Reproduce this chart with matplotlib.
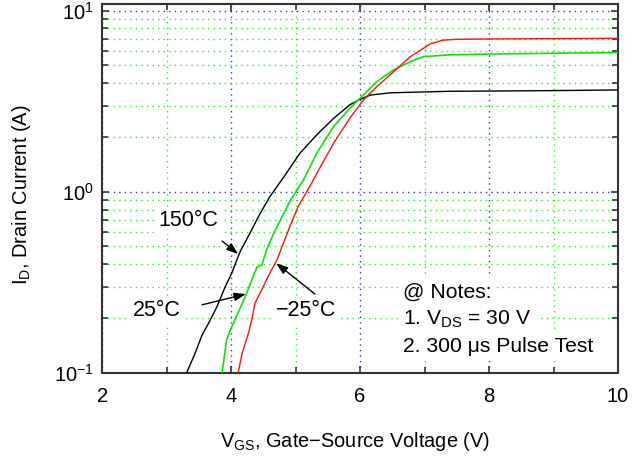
import matplotlib
matplotlib.use("Agg")
import matplotlib.pyplot as plt
from matplotlib.ticker import FixedLocator, NullFormatter, LogLocator

plt.rcParams["font.family"] = ["Liberation Sans", "DejaVu Sans"]
plt.rcParams["mathtext.fontset"] = "custom"
plt.rcParams["mathtext.rm"] = "Liberation Sans"
plt.rcParams["mathtext.it"] = "Liberation Sans:italic"
plt.rcParams["mathtext.bf"] = "Liberation Sans:bold"

# transfer characteristics
vgs_150 = [3.31, 3.44, 3.55, 3.65, 3.78, 3.91, 4.01, 4.14, 4.29, 4.45, 4.60,
           4.81, 5.07, 5.33, 5.59, 5.84, 6.00, 6.16, 6.47, 7.00, 7.40, 8.0, 9.0, 10.0]
id_150 = [0.10, 0.128, 0.162, 0.188, 0.232, 0.30, 0.356, 0.468, 0.59, 0.76, 0.94,
          1.20, 1.64, 2.07, 2.55, 3.03, 3.25, 3.43, 3.53, 3.57, 3.60, 3.61, 3.63, 3.66]

vgs_25 = [3.86, 3.93, 4.01, 4.14, 4.24, 4.32, 4.40, 4.48, 4.55, 4.66, 4.79, 4.92,
          5.12, 5.33, 5.59, 5.84, 6.05, 6.26, 6.52, 6.78, 6.98, 7.40, 8.0, 9.0, 10.0]
id_25 = [0.10, 0.152, 0.18, 0.228, 0.275, 0.326, 0.384, 0.396, 0.478, 0.59, 0.73, 0.90,
         1.16, 1.64, 2.30, 2.90, 3.43, 4.07, 4.72, 5.25, 5.59, 5.72, 5.78, 5.84, 5.89]

vgs_m25 = [4.11, 4.17, 4.27, 4.32, 4.37, 4.50, 4.60, 4.71, 4.81, 4.91, 5.04, 5.25,
           5.33, 5.59, 5.84, 6.05, 6.26, 6.52, 6.78, 7.09, 7.29, 7.50, 8.0, 9.0, 10.0]
id_m25 = [0.10, 0.128, 0.166, 0.196, 0.243, 0.30, 0.356, 0.42, 0.52, 0.643, 0.83, 1.12,
          1.27, 1.86, 2.55, 3.22, 3.82, 4.62, 5.59, 6.58, 6.90, 6.97, 7.00, 7.03, 7.06]

x_labels = [2, 4, 6, 8, 10]
notes = ["@ Notes:", "1. V$_{\\rm DS}$ = 30 V", "2. 300 \u03bcs Pulse Test"]
notes_y = [0.2594, 0.184, 0.1306]

fig = plt.figure(figsize=(6.38, 4.59), dpi=100)
ax = fig.add_axes([0.160, 0.1874, 0.8088, 0.804])

ax.set_yscale("log")
ax.set_xlim(2, 10)
ax.set_ylim(0.1, 10.93)

ax.xaxis.set_major_locator(FixedLocator(x_labels))
ax.xaxis.set_minor_locator(FixedLocator([3, 5, 7, 9]))
ax.yaxis.set_major_locator(LogLocator(base=10, numticks=10))
ax.yaxis.set_minor_locator(LogLocator(base=10, subs=range(2, 10), numticks=10))
ax.yaxis.set_minor_formatter(NullFormatter())

dots = (0, (1, 3))
ax.grid(which="major", color="#3030ff", linestyle=dots, linewidth=1.0)
ax.grid(which="minor", color="#20f020", linestyle=dots, linewidth=1.0)
ax.set_axisbelow(True)

ax.plot(vgs_150, id_150, color="black", lw=1.0, zorder=3)
ax.plot(vgs_25, id_25, color="#10e010", lw=1.2, zorder=3)
ax.plot(vgs_m25, id_m25, color="#ff1010", lw=1.0, zorder=3)

for s in ax.spines.values():
    s.set_color("#333333")
    s.set_linewidth(1.5)
ax.tick_params(which="both", direction="in", top=True, right=True,
               colors="#333333", labelcolor="black", labelsize=14.5)
ax.tick_params(axis="x", pad=10)
ax.tick_params(axis="y", pad=6)
ax.tick_params(which="major", length=5, width=1.2)
ax.tick_params(which="minor", length=4, width=1.2)

fig.text(0.556, 0.026, r"V$_{\rm GS}$, Gate$-$Source Voltage (V)", fontsize=14.4,
         ha="center", va="baseline")
fig.text(0.034, 0.575, r"I$_{\rm D}$, Drain Current (A)", fontsize=14.4,
         ha="center", va="center", rotation=90)

box = dict(facecolor="white", edgecolor="none", pad=2)
arrow = dict(arrowstyle="-|>,head_length=0.7,head_width=0.25", color="black",
             lw=1.0, shrinkA=0, shrinkB=0)
ax.text(3.33, 0.692, "150°C", fontsize=15.5, ha="center", va="center", bbox=box, zorder=4)
ax.text(2.85, 0.22, "25°C", fontsize=15.5, ha="center", va="center", bbox=box, zorder=4)
ax.text(5.16, 0.22, "\u221225°C", fontsize=15.5, ha="center", va="center", bbox=box, zorder=4)
ax.annotate("", xy=(4.11, 0.454), xytext=(3.86, 0.536), arrowprops=arrow, zorder=5)
ax.annotate("", xy=(4.23, 0.273), xytext=(3.55, 0.238), arrowprops=arrow, zorder=5)
ax.annotate("", xy=(4.70, 0.404), xytext=(5.30, 0.273), arrowprops=arrow, zorder=5)

for line, yv in zip(notes, notes_y):
    ax.text(6.67, yv, line, fontsize=15.2, ha="left", va="baseline",
            bbox=dict(facecolor="white", edgecolor="none", pad=4), zorder=4)

fig.savefig("out.png", dpi=100)
